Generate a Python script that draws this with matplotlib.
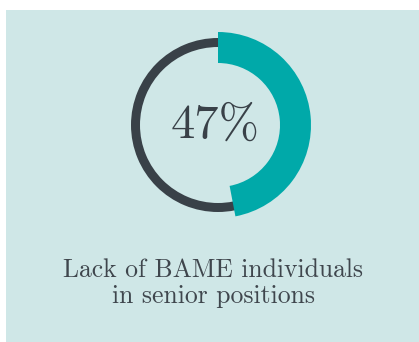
import matplotlib.pyplot as plt
from matplotlib.patches import Wedge, Rectangle

# data
share = 47  # percent
label_value = "47%"
caption = "Lack of BAME individuals\nin senior positions"

bg = '#cfe7e7'
teal = '#00a9a9'
dark = '#394148'

fig = plt.figure(figsize=(4.19, 3.42), dpi=100)
fig.patch.set_facecolor('white')
ax = fig.add_axes([0, 0, 1, 1])
ax.set_xlim(0, 419)
ax.set_ylim(342, 0)
ax.set_aspect('equal')
ax.axis('off')

ax.add_patch(Rectangle((6, 10), 413, 332, facecolor=bg, edgecolor='none'))

cx, cy = 218, 125
# full dark ring behind
ax.add_patch(Wedge((cx, cy), 87, 0, 360, width=9, facecolor=dark, edgecolor='none'))
# teal arc: y axis inverted so angles go clockwise visually
sweep = share / 100 * 360
ax.add_patch(Wedge((cx, cy), 93, -90, -90 + sweep, width=31, facecolor=teal, edgecolor='none'))

ax.text(cx - 3, cy + 1, label_value, ha='center', va='center', fontsize=35,
        family='cmr10', color=dark)
ax.text(213, 283, caption, ha='center', va='center', fontsize=18.5,
        family='cmr10', color='#3f464d', linespacing=1.1)

fig.savefig('out.png', dpi=100, facecolor=fig.get_facecolor())
